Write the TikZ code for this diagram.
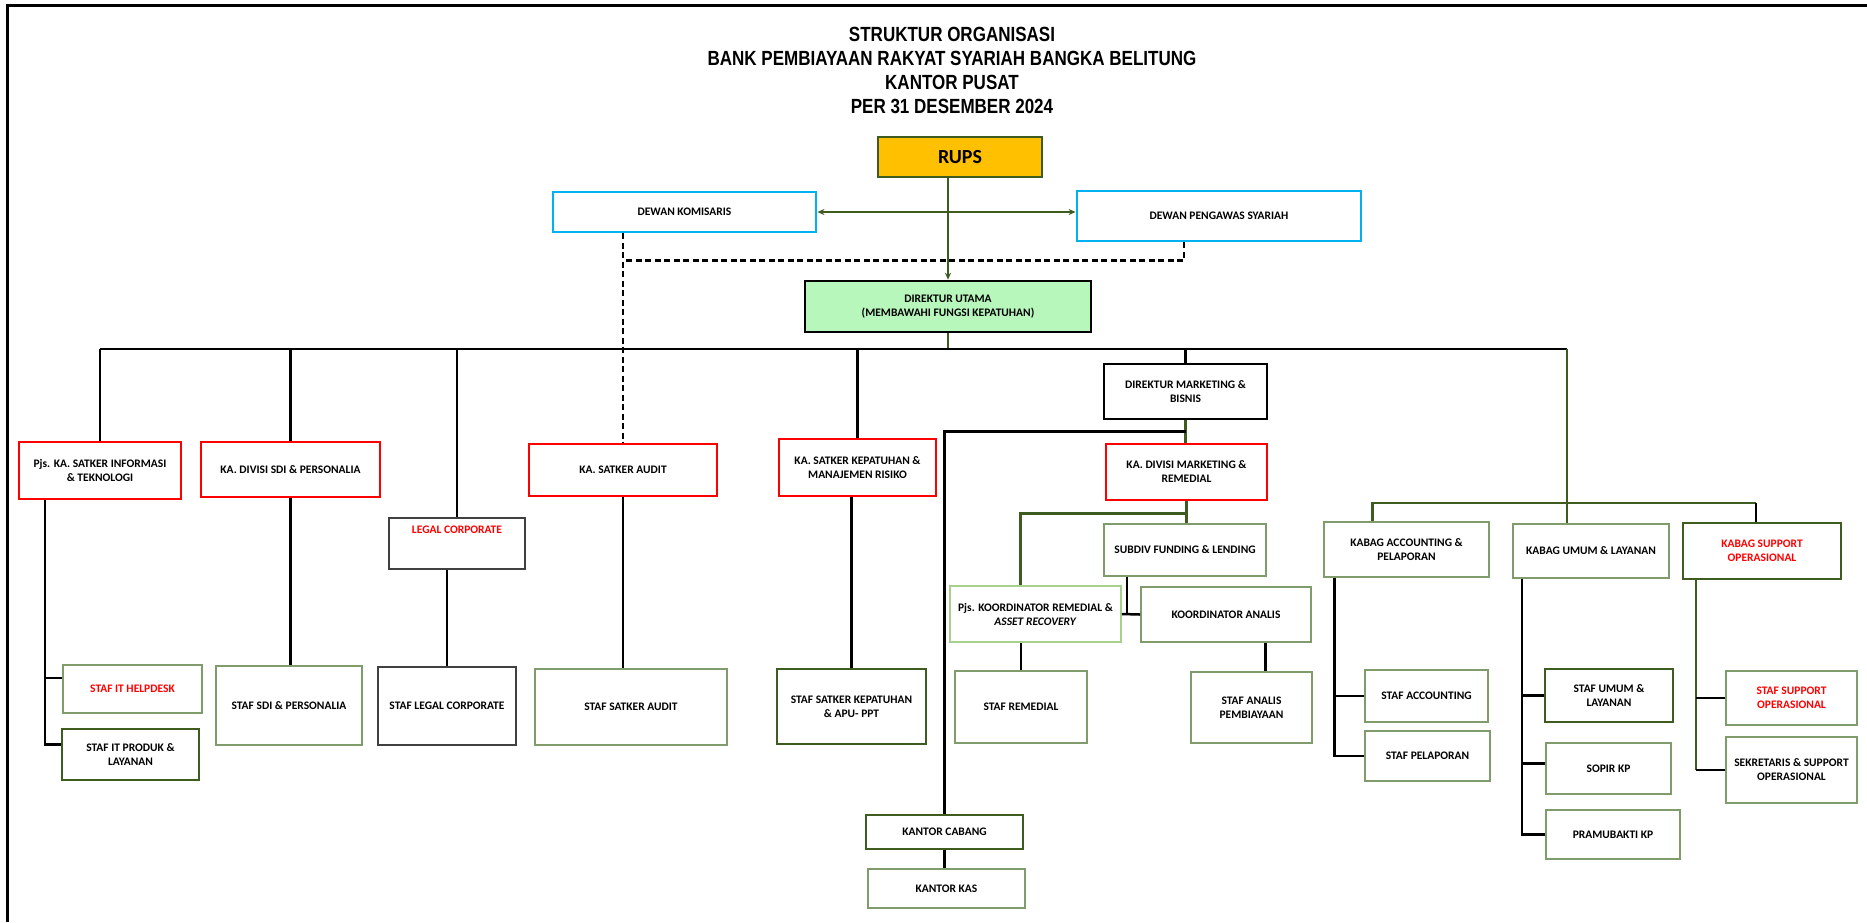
\documentclass[tikz,border=0pt]{standalone}
\usepackage{fontspec}
\setmainfont{Carlito}
\newfontfamily\judulfont[FakeStretch=0.83]{Liberation Sans}
\usetikzlibrary{arrows.meta,calc}
\definecolor{merah}{RGB}{255,0,0}
\definecolor{biru}{RGB}{0,176,240}
\definecolor{emas}{RGB}{255,192,0}
\definecolor{hijautua}{RGB}{62,92,32}
\definecolor{hijauabu}{RGB}{128,156,108}
\definecolor{hijaumuda}{RGB}{168,208,141}
\definecolor{hijaudirut}{RGB}{183,247,187}
\definecolor{abu}{RGB}{64,64,64}
\begin{document}
\begin{tikzpicture}
	  [
	    x                       = 1pt,
	    y                       = -1pt,
	    every node/.style       = {font=\bfseries\fontsize{11.5}{14}\selectfont, align=center, inner sep=2pt},
	    ukuran/.style 2 args    = {minimum width=#1, minimum height=#2},
	    kotak/.style            = {draw=#1, line width=1.6},
	    kepala/.style           = {draw=merah, line width=2.8},
	    dewan/.style            = {draw=biru, line width=2.8},
	    direksi/.style          = {draw=black, line width=2.6},
	    judul/.style            = {font=\judulfont\bfseries\fontsize{20.5}{24}\selectfont, anchor=north, inner sep=0pt},
	    garis/.style            = {draw=black, line width=2.5},
	    hijau/.style            = {draw=hijautua, line width=2.5},
	    putus/.style            = {draw=black, line width=2.2, dash pattern=on 6pt off 3.5pt},
	    ujung/.tip              = {Stealth[length=7pt, width=6pt]}
		]
	  \useasboundingbox (0,0) rectangle (1867,922);
	  \draw[line width=3] (7,922) -- (7,5) -- (1867,5);

	  \node[judul] (judul) at (952,27) {STRUKTUR ORGANISASI\\BANK PEMBIAYAAN RAKYAT SYARIAH BANGKA BELITUNG\\KANTOR PUSAT\\PER 31 DESEMBER 2024};

	  \node[kotak=hijautua, fill=emas, ukuran={164}{40}, font=\bfseries\fontsize{20}{24}\selectfont] (rups) at (960,157) {RUPS};
	  \node[dewan, ukuran={263}{40}] (dekom) at (684.5,212) {DEWAN KOMISARIS};
	  \node[dewan, ukuran={284}{50}] (dps) at (1219,216) {DEWAN PENGAWAS SYARIAH};
	  \node[direksi, fill=hijaudirut, ukuran={286}{51}] (dirut) at (948,306.5) {DIREKTUR UTAMA\\(MEMBAWAHI FUNGSI KEPATUHAN)};

	  \node[kepala, ukuran={162}{57}] (itinfo) at (100,470.5) {Pjs. KA. SATKER INFORMASI\\\& TEKNOLOGI};
	  \node[kepala, ukuran={179}{55}] (sdi) at (290.5,469.5) {KA. DIVISI SDI \& PERSONALIA};
	  \node[kotak=abu, ukuran={136}{51}, text=merah, text height=11pt, text depth=32pt, inner ysep=4pt] (legal) at (457,543.5) {LEGAL CORPORATE};
	  \node[kepala, ukuran={188}{52}] (audit) at (623,470) {KA. SATKER AUDIT};
	  \node[kepala, ukuran={157}{57}] (patuh) at (857.5,467.5) {KA. SATKER KEPATUHAN \&\\MANAJEMEN RISIKO};
	  \node[direksi, ukuran={163}{55}] (dirmkt) at (1185.5,391.5) {DIREKTUR MARKETING \&\\BISNIS};
	  \node[kepala, ukuran={161}{56}] (divmkt) at (1186.5,472) {KA. DIVISI MARKETING \&\\REMEDIAL};
	  \node[kotak=hijauabu, ukuran={162}{52}] (subdiv) at (1185,550) {SUBDIV FUNDING \& LENDING};
	  \node[kotak=hijaumuda, ukuran={171}{56}] (koordrem) at (1035.5,614) {Pjs. KOORDINATOR REMEDIAL \&\\\textit{ASSET RECOVERY}};
	  \node[kotak=hijauabu, ukuran={170}{55}] (koordan) at (1226,614.5) {KOORDINATOR ANALIS};
	  \node[kotak=hijauabu, ukuran={132}{72}] (stafrem) at (1021,707) {STAF REMEDIAL};
	  \node[kotak=hijauabu, ukuran={121}{71}] (stafan) at (1251.5,707.5) {STAF ANALIS\\PEMBIAYAAN};
	  \node[kotak=hijautua, ukuran={157}{34}] (cabang) at (944.5,832) {KANTOR CABANG};
	  \node[kotak=hijauabu, ukuran={157}{39}] (kas) at (946.5,888.5) {KANTOR KAS};

	  \node[kotak=hijauabu, ukuran={139}{48}, text=merah] (helpdesk) at (132.5,689) {STAF IT HELPDESK};
	  \node[kotak=hijautua, ukuran={137}{51}] (itproduk) at (130.5,754.5) {STAF IT PRODUK \&\\LAYANAN};
	  \node[kotak=hijauabu, ukuran={146}{79}] (stafsdi) at (289,705.5) {STAF SDI \& PERSONALIA};
	  \node[kotak=abu, ukuran={138}{78}] (staflegal) at (447,706) {STAF LEGAL CORPORATE};
	  \node[kotak=hijauabu, ukuran={192}{76}] (stafaudit) at (631,707) {STAF SATKER AUDIT};
	  \node[kotak=hijautua, ukuran={149}{75}] (stafpatuh) at (851.5,706.5) {STAF SATKER KEPATUHAN\\\& APU- PPT};

	  \node[kotak=hijauabu, ukuran={165}{55}] (kabagacc) at (1406.5,549.5) {KABAG ACCOUNTING \&\\PELAPORAN};
	  \node[kotak=hijauabu, ukuran={156}{54}] (kabagumum) at (1591,551) {KABAG UMUM \& LAYANAN};
	  \node[kotak=hijautua, ukuran={158}{56}, text=merah] (kabagsupport) at (1762,551) {KABAG SUPPORT\\OPERASIONAL};
	  \node[kotak=hijauabu, ukuran={123}{52}] (stafacc) at (1426.5,696) {STAF ACCOUNTING};
	  \node[kotak=hijauabu, ukuran={125}{50}] (stafpel) at (1427.5,756) {STAF PELAPORAN};
	  \node[kotak=hijautua, ukuran={128}{53}] (stafumum) at (1609,695.5) {STAF UMUM \&\\LAYANAN};
	  \node[kotak=hijauabu, ukuran={125}{51}] (sopir) at (1608.5,768.5) {SOPIR KP};
	  \node[kotak=hijauabu, ukuran={134}{49}] (pramu) at (1613,834.5) {PRAMUBAKTI KP};
	  \node[kotak=hijauabu, ukuran={131}{54}, text=merah] (stafsup) at (1791.5,698) {STAF SUPPORT\\OPERASIONAL};
	  \node[kotak=hijauabu, ukuran={131}{66}] (sekre) at (1791.5,770) {SEKRETARIS \& SUPPORT\\OPERASIONAL};

	  \coordinate (bus) at (0,349);
	  \coordinate (buskanan) at (1567,349);
	  \coordinate (subbus) at (1567,503);
	  \coordinate (supkiri) at ([xshift=-66]kabagsupport.south);

	  % rups, dewan dan direktur utama
	  \draw[hijau, -ujung] (rups.south -| dirut.north) -- (dirut.north);
	  \draw[hijau, ujung-ujung] (dekom.east) -- (dekom.east -| dps.west);
	  \draw[putus] (dekom.south -| audit.north) -- (audit.north);
	  \draw[putus] ([xshift=-35]dps.south) |- ($(dekom.south -| audit.north)+(0,27)$);
	  \draw[hijau] (dirut.south) -- (dirut.south |- bus);

	  % garis utama
	  \draw[garis] (itinfo.north |- bus) -- (buskanan);
	  \draw[garis] (itinfo.north |- bus) -- (itinfo.north);
	  \draw[garis] (sdi.north |- bus) -- (sdi.north);
	  \draw[garis] (legal.north |- bus) -- (legal.north);
	  \draw[garis] (patuh.north |- bus) -- (patuh.north);
	  \draw[garis] (dirmkt.north |- bus) -- (dirmkt.north);
	  \draw[hijau] (buskanan) -- (kabagumum.north -| buskanan);
	  \draw[hijau] ([xshift=-34]kabagacc.north) |- ([xshift=-6]kabagsupport.north |- subbus);
	  \draw[garis] ([xshift=-6]kabagsupport.north |- subbus) -- ([xshift=-6]kabagsupport.north);

	  % kiri
	  \draw[garis] ([xshift=-55]itinfo.south) |- ($(helpdesk.west)+(0,-11)$);
	  \draw[garis] ([xshift=-55]itinfo.south) |- ($(itproduk.west)+(0,-10)$);
	  \draw[garis] (sdi.south) -- (sdi.south |- stafsdi.north);
	  \draw[garis] (staflegal.north |- legal.south) -- (staflegal.north);
	  \draw[garis] (audit.south) -- (audit.south |- stafaudit.north);
	  \draw[garis] (stafpatuh.north |- patuh.south) -- (stafpatuh.north);

	  % marketing
	  \draw[hijau] (dirmkt.south) -- (dirmkt.south |- divmkt.north);
	  \draw[garis] ($(dirmkt.south)+(0,11)$) -| (cabang.north);
	  \draw[hijau] (divmkt.south) -- (divmkt.south |- subdiv.north);
	  \draw[hijau] ($(divmkt.south)+(0,12)$) -| ([xshift=-15]koordrem.north);
	  \draw[garis] (koordrem.east) -- (koordan.west);
	  \draw[garis] ([xshift=-58]subdiv.south) -- ([xshift=-58]subdiv.south |- koordan.west);
	  \draw[garis] (stafrem.north |- koordrem.south) -- (stafrem.north);
	  \draw[garis] ([xshift=14]stafan.north |- koordan.south) -- ([xshift=14]stafan.north);
	  \draw[garis] (cabang.south) -- (cabang.south |- kas.north);

	  % kanan
	  \draw[garis] ([xshift=-72]kabagacc.south) |- (stafacc.west);
	  \draw[garis] ([xshift=-72]kabagacc.south) |- (stafpel.west);
	  \draw[garis] ([xshift=-69]kabagumum.south) |- (stafumum.west);
	  \draw[garis] ([xshift=-69]kabagumum.south) |- ($(sopir.west)+(0,-5)$);
	  \draw[garis] ([xshift=-69]kabagumum.south) |- (pramu.west);
	  \draw[hijau] (supkiri) -- (supkiri |- sekre.west);
	  \draw[garis] (supkiri |- stafsup.west) -- (stafsup.west);
	  \draw[garis] (supkiri |- sekre.west) -- (sekre.west);
	\end{tikzpicture}
\end{document}
